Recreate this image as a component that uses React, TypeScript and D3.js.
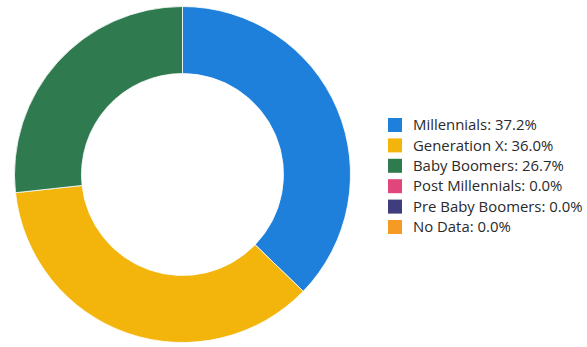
import React from "react";
import * as d3 from "d3";

const categories = ["Millennials", "Generation X", "Baby Boomers", "Post Millennials", "Pre Baby Boomers", "No Data"];
const values = [37.2, 36.0, 26.7, 0.0, 0.0, 0.0];
const colors = ["#1f80db", "#f3b50c", "#2f7a4e", "#e0457b", "#3f3d7e", "#f59a23"];

export default function App() {
  const W = 587, H = 347;
  const cx = 182.5, cy = 174.5, rOuter = 168, rInner = 101;
  const pie = d3.pie<number>().sort(null).value((d) => d)(values);
  const arc = d3.arc<d3.PieArcDatum<number>>().innerRadius(rInner).outerRadius(rOuter);
  const legendX = 388, legendY = 118, rowH = 20.4, sq = 14;
  return (
    <svg width={W} height={H} style={{ position: "absolute", left: 0, top: 0, background: "#fff" }}>
      <g transform={`translate(${cx},${cy})`}>
        {pie.map((p, i) =>
          p.value > 0 ? (
            <path key={i} d={arc(p) || ""} fill={colors[i]} stroke="#fff" strokeWidth={0.8} />
          ) : null
        )}
      </g>
      <g fontFamily="'Open Sans', sans-serif" fontSize={14.9} fill="#2a2a2a">
        {categories.map((c, i) => (
          <g key={c} transform={`translate(${legendX},${legendY + i * rowH})`}>
            <rect x={0} y={0} width={sq} height={sq} fill={colors[i]} />
            <text x={25} y={sq / 2} dy="0.35em">{`${c}: ${values[i].toFixed(1)}%`}</text>
          </g>
        ))}
      </g>
    </svg>
  );
}
